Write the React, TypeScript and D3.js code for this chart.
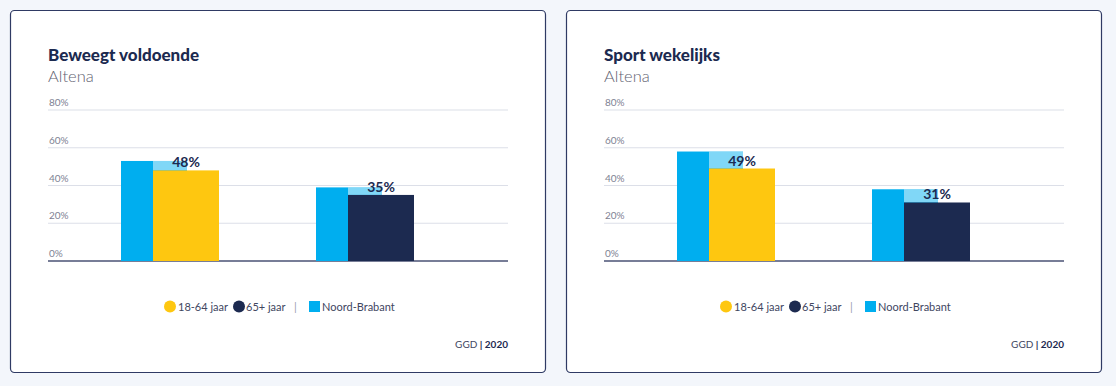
import { useMemo } from "react";
import * as d3 from "d3";

// Chart data
const chartTitles = ["Beweegt voldoende", "Sport wekelijks"];
const regionName = "Altena";
const ageGroups = ["18-64 jaar", "65+ jaar"];
const altenaValues = [
  [48, 35],
  [49, 31],
];
const brabantValues = [
  [53, 39],
  [58, 38],
];
const yTicks = [0, 20, 40, 60, 80];
const legendLabels = ["18-64 jaar", "65+ jaar", "Noord-Brabant"];
const sourceLabel = "GGD";
const yearLabel = "2020";

const groupColors = ["#fec710", "#1c2a50"];
const brabantColor = "#00aeef";
const navy = "#1c2a50";
const font = "'Source Sans Pro', Lato, 'Open Sans', sans-serif";

function Panel({ idx, offsetX }: { idx: number; offsetX: number }) {
  const plotLeft = 48;
  const plotRight = 508;
  const y = useMemo(
    () => d3.scaleLinear().domain([0, 80]).range([261, 110]),
    []
  );
  const x = useMemo(
    () => d3.scaleBand<string>().domain(ageGroups).range([72.5, 462.5]),
    []
  );
  const barW = 66;
  const shift = 32;

  return (
    <g transform={`translate(${offsetX},0)`}>
      <rect x={10.5} y={10.5} width={535} height={362} rx={4} fill="#fff" stroke="#2f3a64" strokeWidth={1.2} />
      <text x={48} y={61} fontFamily={font} fontWeight={900} fontSize={17} fill={navy}>
        {chartTitles[idx]}
      </text>
      <text x={48} y={82} fontFamily={font} fontWeight={300} fontSize={16.5} fill="#5f6270">
        {regionName}
      </text>

      {/* gridlines */}
      {yTicks.map((t) => (
        <g key={t}>
          <line x1={plotLeft} x2={plotRight} y1={y(t)} y2={y(t)} stroke={t === 0 ? "#4a5275" : "#dcdfe8"} strokeWidth={t === 0 ? 1.5 : 1.2} />
          <text x={plotLeft + 1} y={y(t) - 4} fontFamily={font} fontSize={10} fill="#7e8293">
            {t}%
          </text>
        </g>
      ))}

      {/* bars */}
      {ageGroups.map((g, i) => {
        const c = (x(g) as number) + x.bandwidth() / 2;
        const bx = c - (barW + shift) / 2;
        const ax = bx + shift;
        const bv = brabantValues[idx][i];
        const av = altenaValues[idx][i];
        return (
          <g key={g}>
            <rect x={bx} y={y(bv)} width={barW} height={y(0) - y(bv)} fill={brabantColor} />
            {bv > av && (
              <rect x={ax} y={y(bv)} width={bx + barW - ax} height={y(av) - y(bv)} fill="#fff" opacity={0.5} />
            )}
            <rect x={ax} y={y(av)} width={barW} height={y(0) - y(av)} fill={groupColors[i]} />
            <text x={ax + barW / 2} y={y(av) - 3} textAnchor="middle" fontFamily={font} fontWeight={700} fontSize={14} fill={navy}>
              {av}%
            </text>
          </g>
        );
      })}

      {/* legend */}
      <g fontFamily={font} fontSize={11} fill="#41465f">
        <circle cx={170} cy={306.5} r={6} fill={groupColors[0]} />
        <text x={178} y={310.5}>{legendLabels[0]}</text>
        <circle cx={239} cy={306.5} r={6} fill={groupColors[1]} />
        <text x={246} y={310.5}>{legendLabels[1]}</text>
        <text x={294} y={310.5} fill="#9a9db0">|</text>
        <rect x={309} y={301} width={11} height={11} fill={brabantColor} />
        <text x={322} y={310.5}>{legendLabels[2]}</text>
      </g>

      <text x={508} y={348} textAnchor="end" fontFamily={font} fontSize={10} fill="#41465f">
        {sourceLabel}
        <tspan fontWeight={700} fill={navy}> | {yearLabel}</tspan>
      </text>
    </g>
  );
}

export default function App() {
  return (
    <svg
      width={1116}
      height={386}
      style={{ position: "absolute", left: 0, top: 0, background: "#f3f6fb" }}
    >
      {chartTitles.map((t, i) => (
        <Panel key={t} idx={i} offsetX={i * 556} />
      ))}
    </svg>
  );
}
